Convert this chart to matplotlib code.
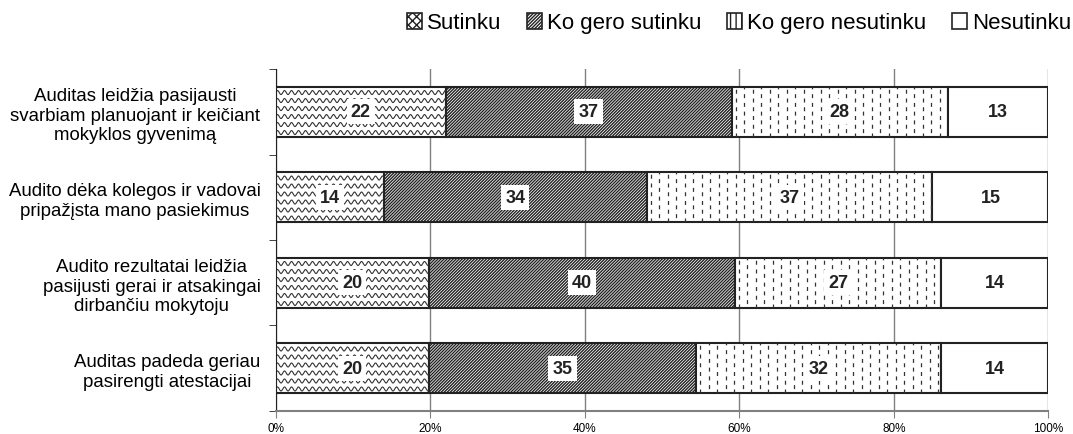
""" Audit survey, 100% stacked horizontal bars with textures
"""
import numpy as np
import matplotlib.pyplot as plt
from matplotlib.patches import Patch

plt.rcParams['font.family'] = ['Liberation Sans', 'DejaVu Sans']
plt.rcParams['hatch.linewidth'] = 1.0

categories = ['Auditas leidžia pasijausti\nsvarbiam planuojant ir keičiant\nmokyklos gyvenimą',
              'Audito dėka kolegos ir vadovai\npripažįsta mano pasiekimus',
              'Audito rezultatai leidžia\npasijusti gerai ir atsakingai\ndirbančiu mokytoju',
              'Auditas padeda geriau\npasirengti atestacijai']
series = ['Sutinku', 'Ko gero sutinku', 'Ko gero nesutinku', 'Nesutinku']
sutinku = [22, 14, 20, 20]
ko_gero_sutinku = [37, 34, 40, 35]
ko_gero_nesutinku = [28, 37, 27, 32]
nesutinku = [13, 15, 14, 14]

values = np.array([sutinku, ko_gero_sutinku, ko_gero_nesutinku, nesutinku], dtype=float)
shares = values / values.sum(axis=0) * 100

edge = '#222222'
fig = plt.figure(figsize=(10.73, 4.35), dpi=100)
ax = fig.add_axes([0.257, 0.053, 0.72, 0.786])
ax.set_xlim(0, 100)
ax.set_ylim(-0.5, len(categories) - 0.5)
ypos = np.arange(len(categories))[::-1]

# pixel size of one data unit (figure size is fixed)
(px0, py0), (px1, py1) = ax.transData.transform([(0, 0), (100, 1)])
sx, sy = (px1 - px0) / 100, (py1 - py0)


def add_waves(patch):
    """ wavy texture clipped to a bar """
    x0, y0, w, h = patch.get_x(), patch.get_y(), patch.get_width(), patch.get_height()
    xs = np.linspace(x0, x0 + w, int(w * sx * 3))
    for yy in np.arange(y0 + 4 / sy, y0 + h, 8 / sy):
        ys = yy + 2 / sy * np.sin(2 * np.pi * (xs - x0) * sx / 7)
        ln, = ax.plot(xs, ys, color='#333333', lw=0.8, zorder=2.5)
        ln.set_clip_path(patch)


def add_dashes(patch):
    """ short vertical dashes clipped to a bar """
    x0, y0, w, h = patch.get_x(), patch.get_y(), patch.get_width(), patch.get_height()
    for k, xx in enumerate(np.arange(x0 + 4 / sx, x0 + w, 8.5 / sx)):
        ln, = ax.plot([xx, xx], [y0, y0 + h], color='#333333', lw=0.9,
                      linestyle=(0 if k % 2 == 0 else 3.5, (3.2, 3.8)), zorder=2.5)
        ln.set_clip_path(patch)


hatches = [None, '/' * 11, None, None]
textures = [add_waves, None, add_dashes, None]
left = np.zeros(len(categories))
for i, name in enumerate(series):
    bars = ax.barh(ypos, shares[i], left=left, height=0.58, color='white',
                   edgecolor=edge, linewidth=1.5, hatch=hatches[i], zorder=2)
    if textures[i] is not None:
        for b in bars:
            textures[i](b)
    for y, l, s, v in zip(ypos, left, shares[i], values[i]):
        ax.text(l + s / 2, y, f'{v:.0f}', ha='center', va='center',
                fontsize=13, fontweight='bold', color=edge, zorder=5,
                bbox=dict(facecolor='white', edgecolor='none', pad=3))
    left += shares[i]

ax.set_axisbelow(True)
ax.xaxis.grid(True, color='#808080', lw=1)
ax.spines['top'].set_visible(False)
ax.spines['right'].set_visible(False)
ax.spines['left'].set_color(edge)
ax.spines['bottom'].set_color('#808080')
ax.spines['bottom'].set_linewidth(1.5)

ax.set_xticks(range(0, 101, 20), [f'{t}%' for t in range(0, 101, 20)])
ax.tick_params(axis='x', labelsize=8.5, length=5, color='#808080', pad=3)

ax.set_yticks(ypos, categories)
ax.set_yticks(np.arange(-0.5, len(categories), 1), minor=True)
ax.tick_params(axis='y', which='major', length=0, labelsize=13.4, pad=11)
ax.tick_params(axis='y', which='minor', length=5, color=edge)
for lbl in ax.get_yticklabels():
    lbl.set_multialignment('center')
    lbl.set_linespacing(1.2)

hatch_leg = ['xxxx', '/' * 10, '|||', None]
handles = [Patch(facecolor='white', edgecolor=edge, hatch=h, lw=1.2) for h in hatch_leg]
fig.legend(handles, series, loc='center right', bbox_to_anchor=(0.998, 0.945),
           ncol=4, frameon=False, fontsize=16, handlelength=0.68, handleheight=0.72,
           handletextpad=0.22, columnspacing=1.15, borderaxespad=0, borderpad=0)

fig.savefig('out.png', dpi=100)
